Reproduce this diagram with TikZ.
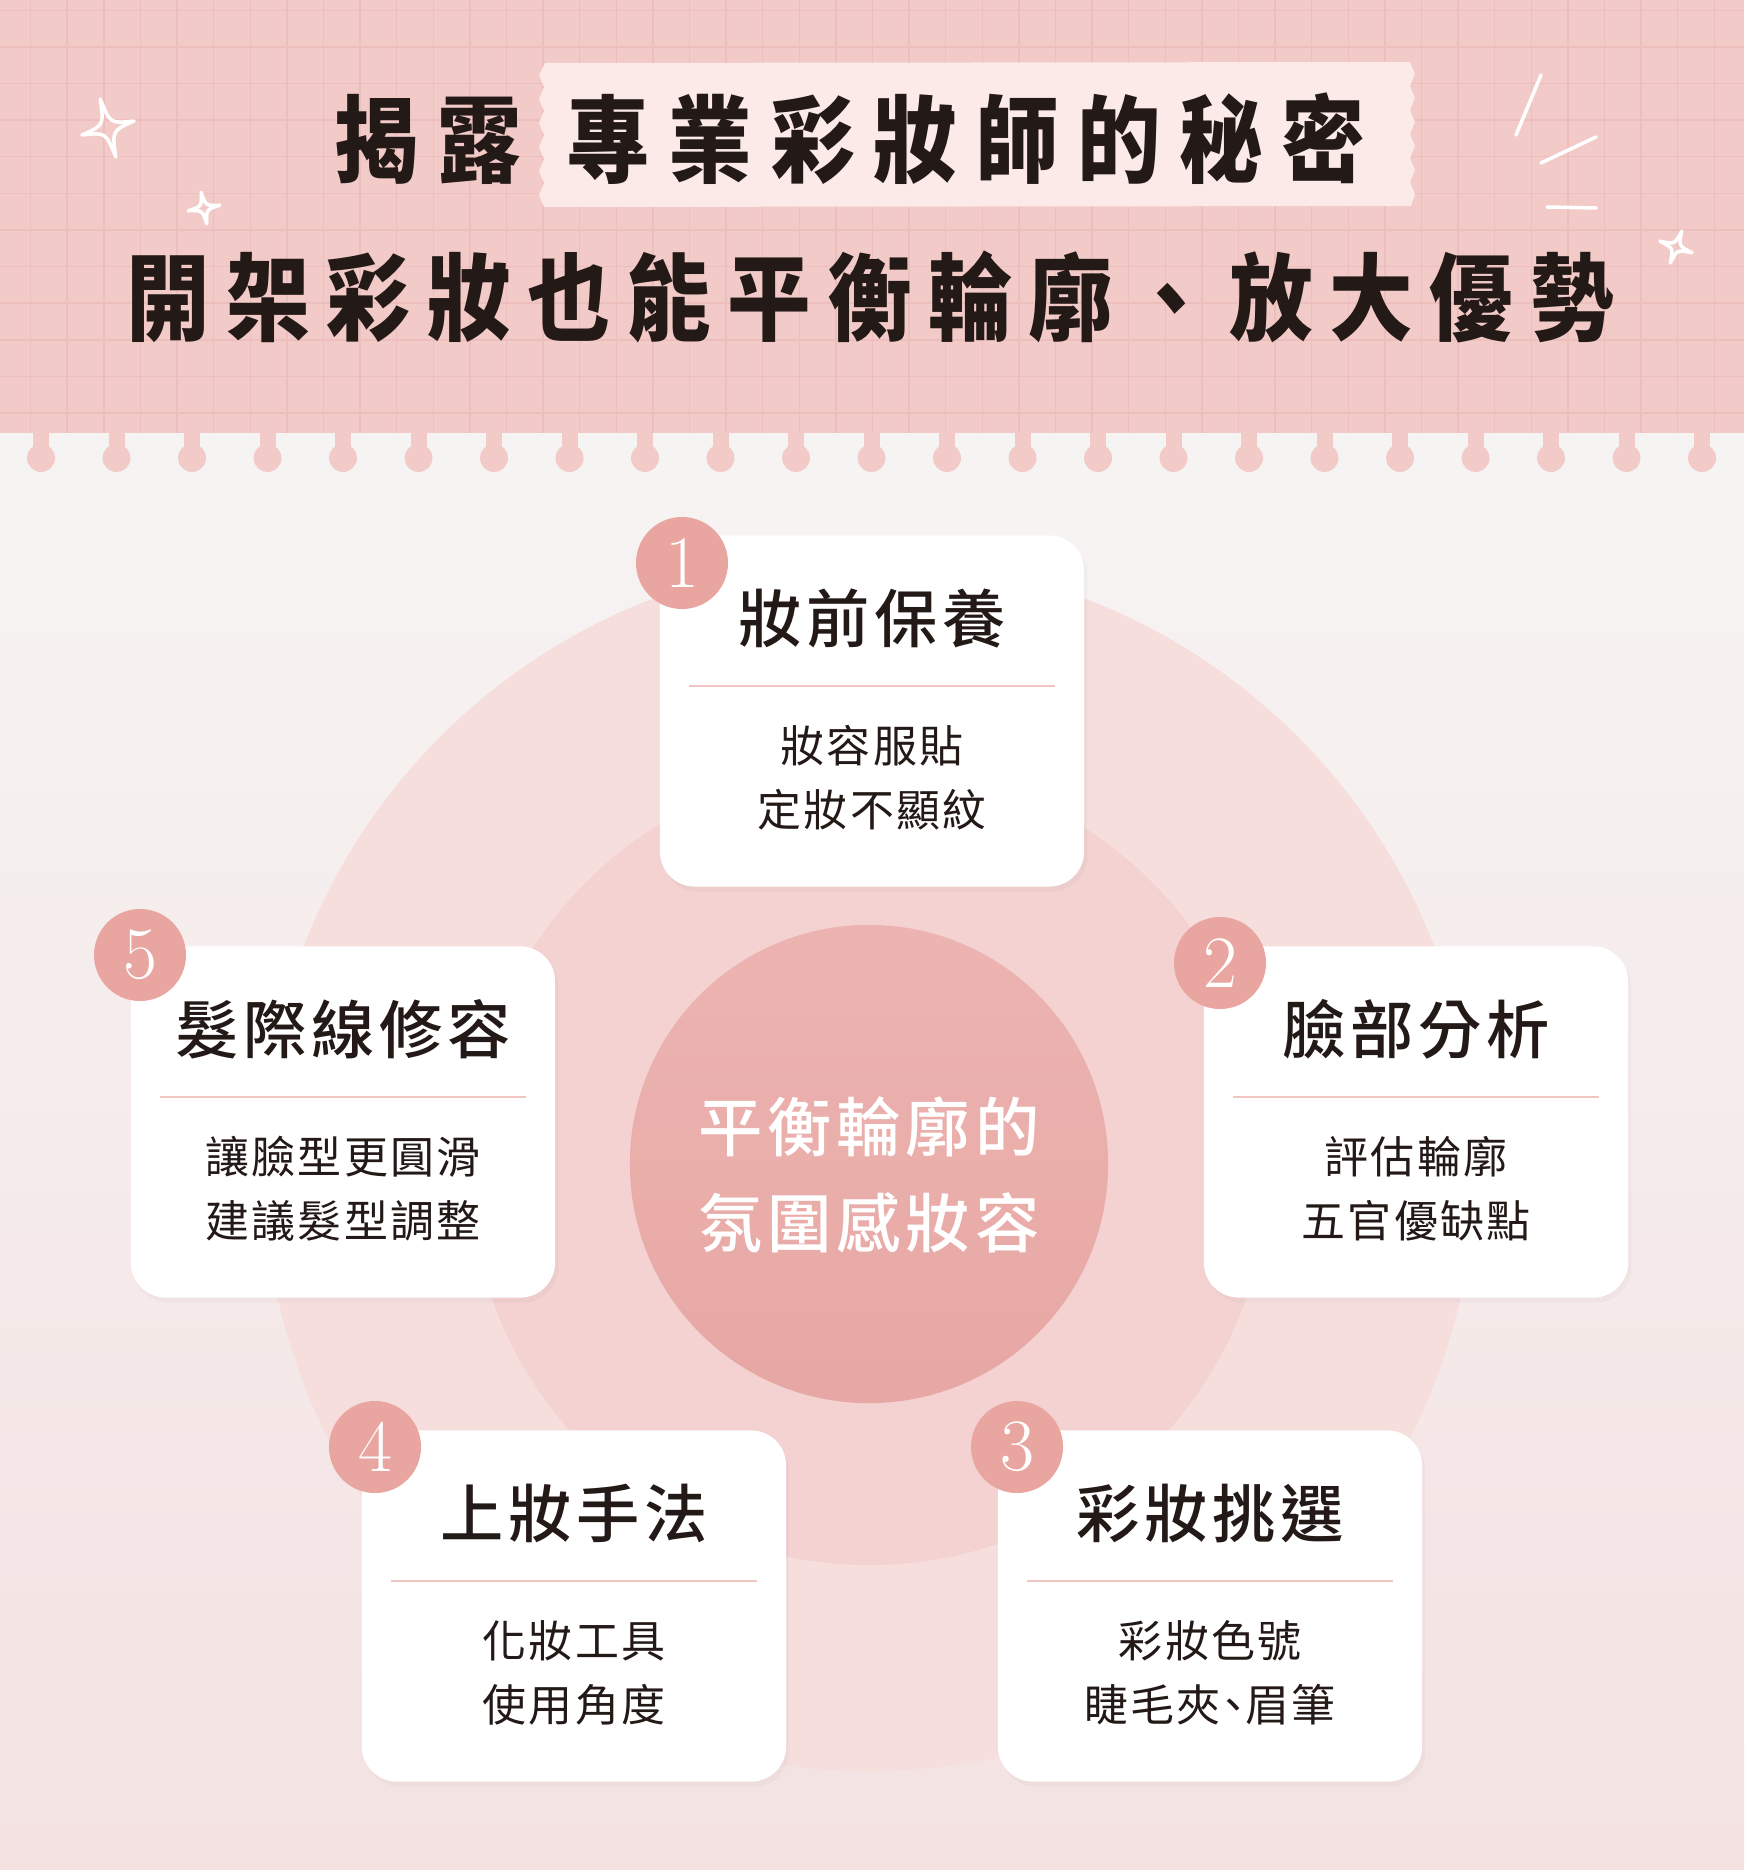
\documentclass[tikz,border=0pt]{standalone}
\usepackage{fontspec}
\newfontfamily\cjkfont{Noto Sans CJK TC}
\newfontfamily\cjkmedium{Noto Sans CJK TC Medium}
\usetikzlibrary{positioning,shadows}

\definecolor{headpink}{HTML}{F2CAC8}
\definecolor{gridpink}{HTML}{ECBFBD}
\definecolor{tapepink}{HTML}{FCEAE8}
\definecolor{paper}{HTML}{F6F4F3}
\definecolor{paperpink}{HTML}{F4E2E2}
\definecolor{ringout}{HTML}{F6DEDD}
\definecolor{ringmid}{HTML}{F3D2D1}
\definecolor{coretop}{HTML}{ECB4B1}
\definecolor{corebottom}{HTML}{E7A7A4}
\definecolor{badgepink}{HTML}{E9A6A0}
\definecolor{rulepink}{HTML}{F0C6C2}
\definecolor{ink}{HTML}{231916}

% spread CJK characters by a fixed gap
\newcommand\spreadchars[2]{\def\spreadgap{#1}\spreadnext#2\relax}
\def\spreadnext#1{\ifx#1\relax\unkern\else#1\kern\spreadgap\relax\expandafter\spreadnext\fi}

\begin{document}
\begin{tikzpicture}[x=0.01cm,y=-0.01cm]
    \tikzset{
      card/.style={rectangle,rounded corners=0.35cm,fill=white,minimum width=4.24cm,minimum height=3.51cm,
        drop shadow={opacity=0.05,shadow xshift=0.03cm,shadow yshift=-0.05cm}},
      badge/.style={circle,fill=badgepink,minimum size=0.92cm,inner sep=0pt,text=white,
        font=\fontsize{21pt}{21pt}\selectfont},
      cardhead/.style={text=ink,inner sep=0pt,font=\cjkmedium\fontsize{18pt}{20pt}\selectfont},
      cardbody/.style={text=ink,inner sep=0pt,align=center,font=\cjkfont\fontsize{12.5pt}{18.2pt}\selectfont},
      title/.style={text=ink,inner sep=0pt,transform shape,xscale=0.88,font=\cjkfont\bfseries\fontsize{27pt}{30pt}\selectfont},
      rule/.style={rulepink,line width=0.45pt},
      gridline/.style={gridpink,line width=0.4pt},
      sparkline/.style={white,line width=1pt,line cap=round,line join=round},
      sparkle/.pic={\draw[sparkline] (0,-1) .. controls (0.12,-0.12) .. (1,0) .. controls (0.12,0.12) .. (0,1)
        .. controls (-0.12,0.12) .. (-1,0) .. controls (-0.12,-0.12) .. cycle;}
    }
    \useasboundingbox (0,0) rectangle (1744,1870);

    % paper and header band
    \shade[top color=paper,bottom color=paperpink] (0,433) rectangle (1744,1870);
    \fill[headpink] (0,0) rectangle (1744,433);
    \foreach \k in {0,...,22} {
      \fill[headpink] ({41+75.5*\k-8},425) rectangle ++(16,33);
      \fill[headpink] ({41+75.5*\k},458) circle[radius=14];
    }
    \foreach \gx in {0,...,47} \draw[gridline] ({30.6+36.6*\gx},0) -- ++(0,433);
    \foreach \gy in {0,...,11} \draw[gridline] (0,{413-36.6*\gy}) -- ++(1744,0);

    % tape behind the title
    \fill[tapepink] (545,63) -- (1410,62) \foreach \k in {1,...,11} {-- ({1410+5*mod(\k,2)},{62+12*\k})}
      -- (1411,206) -- (544,207) \foreach \k in {1,...,11} {-- ({544-5*mod(\k,2)},{207-12*\k})} -- cycle;

    \node[title] (reveal) at (428,139) {\spreadchars{6pt}{揭露}};
    \node[title] (secret) at (966,139) {\spreadchars{6pt}{專業彩妝師的秘密}};
    \node[title] (subtitle) at (870,297) {\spreadchars{5.4pt}{開架彩妝也能平衡輪廓、放大優勢}};

    % doodles
    \pic[rotate=15,xscale=27,yscale=30] at (108,128) {sparkle};
    \pic[rotate=10,scale=16] at (204,208) {sparkle};
    \pic[rotate=-20,scale=17] at (1676,247) {sparkle};
    \draw[sparkline] (1541,75) -- (1516,135);
    \draw[sparkline] (1596,137) -- (1541,163);
    \draw[sparkline] (1547,207) -- (1596,208);

    % rings
    \fill[ringout] (869,1165) circle[radius=606];
    \fill[ringmid] (869,1165) circle[radius=400];
    \node[circle,top color=coretop,bottom color=corebottom,minimum size=4.78cm,inner sep=0pt] (core) at (869,1164) {};
    \node[text=white,inner sep=0pt,align=center,font=\cjkmedium\fontsize{18.3pt}{27.3pt}\selectfont]
      (coretext) at (869,1175) {\spreadchars{1.35pt}{平衡輪廓的}\\\spreadchars{1.35pt}{氛圍感妝容}};

    % 1
    \node[card] (card1) at (872,711) {};
    \node[badge] (num1) at (682,563) {1};
    \node[cardhead] (head1) at ([yshift=-0.84cm]card1.north) {\spreadchars{1.35pt}{妝前保養}};
    \draw[rule] ([xshift=0.3cm,yshift=-1.51cm]card1.north west) -- ([xshift=-0.3cm,yshift=-1.51cm]card1.north east);
    \node[cardbody] (body1) at ([yshift=-2.43cm]card1.north) {\spreadchars{0.6pt}{妝容服貼}\\\spreadchars{0.6pt}{定妝不顯紋}};

    % 2
    \node[card] (card2) at (1416,1122) {};
    \node[badge] (num2) at (1220,963) {2};
    \node[cardhead] (head2) at ([yshift=-0.84cm]card2.north) {\spreadchars{1.35pt}{臉部分析}};
    \draw[rule] ([xshift=0.3cm,yshift=-1.51cm]card2.north west) -- ([xshift=-0.3cm,yshift=-1.51cm]card2.north east);
    \node[cardbody] (body2) at ([yshift=-2.43cm]card2.north) {\spreadchars{0.6pt}{評估輪廓}\\\spreadchars{0.6pt}{五官優缺點}};

    % 3
    \node[card] (card3) at (1210,1606) {};
    \node[badge] (num3) at (1017,1447) {3};
    \node[cardhead] (head3) at ([yshift=-0.84cm]card3.north) {\spreadchars{1.35pt}{彩妝挑選}};
    \draw[rule] ([xshift=0.3cm,yshift=-1.51cm]card3.north west) -- ([xshift=-0.3cm,yshift=-1.51cm]card3.north east);
    \node[cardbody] (body3) at ([yshift=-2.43cm]card3.north) {\spreadchars{0.6pt}{彩妝色號}\\\spreadchars{0.6pt}{睫毛夾}\kern-2.6pt、\kern-2.6pt\spreadchars{0.6pt}{眉筆}};

    % 4
    \node[card] (card4) at (574,1606) {};
    \node[badge] (num4) at (375,1447) {4};
    \node[cardhead] (head4) at ([yshift=-0.84cm]card4.north) {\spreadchars{1.35pt}{上妝手法}};
    \draw[rule] ([xshift=0.3cm,yshift=-1.51cm]card4.north west) -- ([xshift=-0.3cm,yshift=-1.51cm]card4.north east);
    \node[cardbody] (body4) at ([yshift=-2.43cm]card4.north) {\spreadchars{0.6pt}{化妝工具}\\\spreadchars{0.6pt}{使用角度}};

    % 5
    \node[card] (card5) at (343,1122) {};
    \node[badge] (num5) at (140,955) {5};
    \node[cardhead] (head5) at ([yshift=-0.84cm]card5.north) {\spreadchars{1.35pt}{髮際線修容}};
    \draw[rule] ([xshift=0.3cm,yshift=-1.51cm]card5.north west) -- ([xshift=-0.3cm,yshift=-1.51cm]card5.north east);
    \node[cardbody] (body5) at ([yshift=-2.43cm]card5.north) {\spreadchars{0.6pt}{讓臉型更圓滑}\\\spreadchars{0.6pt}{建議髮型調整}};
  \end{tikzpicture}
\end{document}
